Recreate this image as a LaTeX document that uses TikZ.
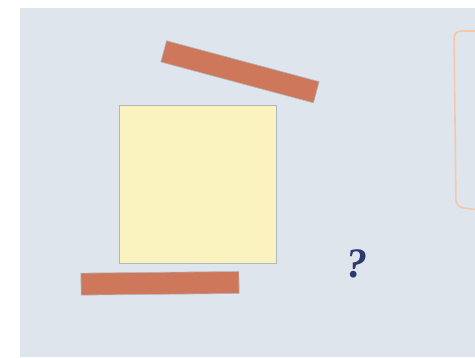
\documentclass[tikz,border=0pt]{standalone}
\usepackage{xcolor}
\usepackage{fontspec}
\usepackage{tikz}
\usetikzlibrary{positioning}
\newfontfamily\askfont{Liberation Serif}
\definecolor{mybg}{RGB}{223,229,237}
\definecolor{myedge}{RGB}{176,184,192}
\definecolor{myorange}{RGB}{207,119,90}
\definecolor{mypaper}{RGB}{250,243,192}
\definecolor{mypeach}{RGB}{245,201,168}
\definecolor{mynavy}{RGB}{46,58,107}
\tikzset{
  plank/.style={rectangle, draw=myedge, fill=myorange, line width=0.6pt,
    minimum width=158pt, minimum height=22pt, inner sep=0pt},
  sheet/.style={rectangle, draw=myedge, fill=mypaper, line width=0.7pt,
    minimum width=157pt, minimum height=158pt, inner sep=0pt},
  outline/.style={draw=mypeach, line width=1.6pt, rounded corners=7pt}
}
\begin{document}
\begin{tikzpicture}[x=1pt, y=-1pt,
  qmark/.style={font=\askfont\fontsize{42}{42}\selectfont\bfseries\itshape, text=mynavy, inner sep=0pt}]

  % Frame
  \useasboundingbox (0,0) rectangle (475,357);
  \fill[mybg] (20,8) rectangle (475,357);

  % Nodes
  \node[sheet] (paper) at (198,184) {};
  \node[plank, rotate=-15] (topplank) at (240,71.8) {};
  \node[plank, rotate=0.6] (lowplank) at (160,283.3) {};
  \node[qmark] (ask) at (357,264) {?};

  % Cut-off box at the edge
  \draw[outline] (480,31) -- (454,31) -- (456,207) -- (480,210);
\end{tikzpicture}
\end{document}
